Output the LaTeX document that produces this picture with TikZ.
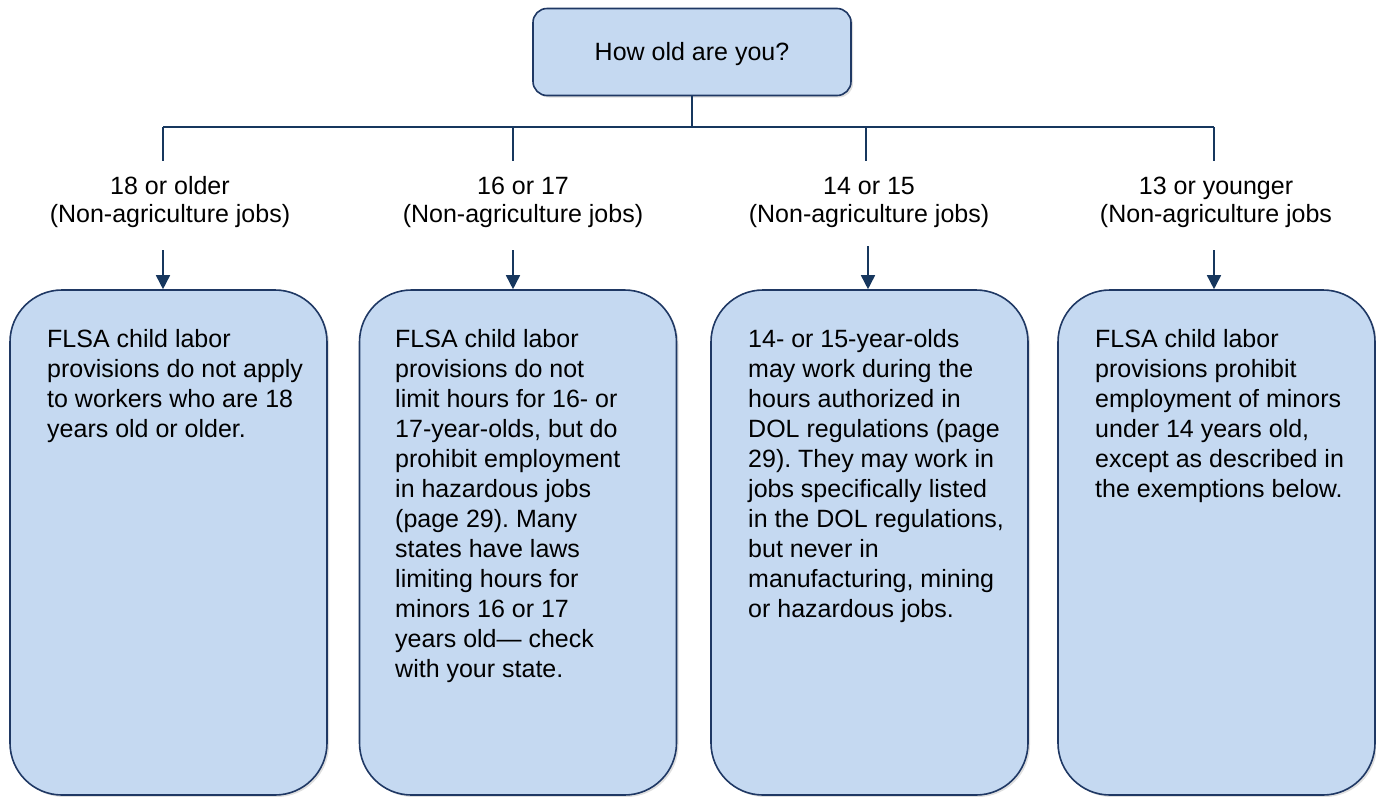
\documentclass[tikz,border=0pt]{standalone}
\usepackage{fontspec}
\setmainfont{Liberation Sans}
\usetikzlibrary{shadows,arrows.meta}
\frenchspacing
\definecolor{boxfill}{HTML}{C5D9F1}
\definecolor{boxline}{HTML}{1F3864}
\definecolor{conn}{HTML}{17375E}
\tikzset{
  agebox/.style={draw=boxline, line width=1.6pt, fill=boxfill, rounded corners=52pt,
    minimum width=317pt, minimum height=505pt, inner sep=0pt,
    drop shadow={shadow xshift=2pt, shadow yshift=-2pt, opacity=0.25, fill=gray}},
  topbox/.style={draw=boxline, line width=1.6pt, fill=boxfill, rounded corners=14pt,
    minimum width=318pt, minimum height=87pt, inner sep=0pt,
    font=\fontsize{25}{28}\selectfont,
    drop shadow={shadow xshift=2pt, shadow yshift=-2pt, opacity=0.25, fill=gray}},
  boxtext/.style={anchor=north west, align=left, inner sep=0pt,
    font=\fontsize{25}{30}\selectfont},
  agelabel/.style={align=center, inner sep=0pt, font=\fontsize{25}{28}\selectfont},
  connline/.style={draw=conn, line width=1.6pt},
  arr/.style={connline, -{Triangle[length=14pt,width=14pt]}}
}
\begin{document}
\begin{tikzpicture}[x=1pt,y=-1pt]
\useasboundingbox (0,0) rectangle (1376,796);
\node[topbox] (top) at (692,52) {};
\node[inner sep=0pt, font=\fontsize{25}{28}\selectfont] (toptext) at (692,54) {How old are you?};

\coordinate (hj) at (692,127);
\coordinate (j1) at (163,127);
\coordinate (j2) at (513,127);
\coordinate (j3) at (866,127);
\coordinate (j4) at (1214,127);
\coordinate (d1) at (163,161);
\coordinate (d2) at (513,161);
\coordinate (d3) at (866,161);
\coordinate (d4) at (1214,161);

\draw[connline] (top.south) -- (hj);
\draw[connline] (j1) -- (j4);
\foreach \i in {1,2,3,4} { \draw[connline] (j\i) -- (d\i); }

\node[agelabel] (l1) at (170,202) {18 or older\\(Non-agriculture jobs)};
\node[agelabel] (l2) at (523,202) {16 or 17\\(Non-agriculture jobs)};
\node[agelabel] (l3) at (869,202) {14 or 15\\(Non-agriculture jobs)};
\node[agelabel] (l4) at (1216,202) {13 or younger\\(Non-agriculture jobs};

\node[agebox] (b1) at (168.5,542.5) {};
\node[agebox] (b2) at (518,542.5) {};
\node[agebox] (b3) at (869.5,542.5) {};
\node[agebox] (b4) at (1216.5,542.5) {};

\coordinate (a1) at (163,250);
\coordinate (a2) at (513,250);
\coordinate (a3) at (868,246);
\coordinate (a4) at (1214,250);
\foreach \i in {1,2,3,4} { \draw[arr] (a\i) -- (a\i |- b\i.north); }

\node[boxtext] (t1) at (47,329) {FLSA child labor\\provisions do not apply\\to workers who are 18\\years old or older.};
\node[boxtext] (t2) at (395,329) {FLSA child labor\\provisions do not\\limit hours for 16- or\\17-year-olds, but do\\prohibit employment\\in hazardous jobs\\(page 29). Many\\states have laws\\limiting hours for\\minors 16 or 17\\years old— check\\with your state.};
\node[boxtext] (t3) at (748,329) {14- or 15-year-olds\\may work during the\\hours authorized in\\DOL regulations (page\\29). They may work in\\jobs specifically listed\\in the DOL regulations,\\but never in\\manufacturing, mining\\or hazardous jobs.};
\node[boxtext] (t4) at (1095,329) {FLSA child labor\\provisions prohibit\\employment of minors\\under 14 years old,\\except as described in\\the exemptions below.};
\end{tikzpicture}
\end{document}
